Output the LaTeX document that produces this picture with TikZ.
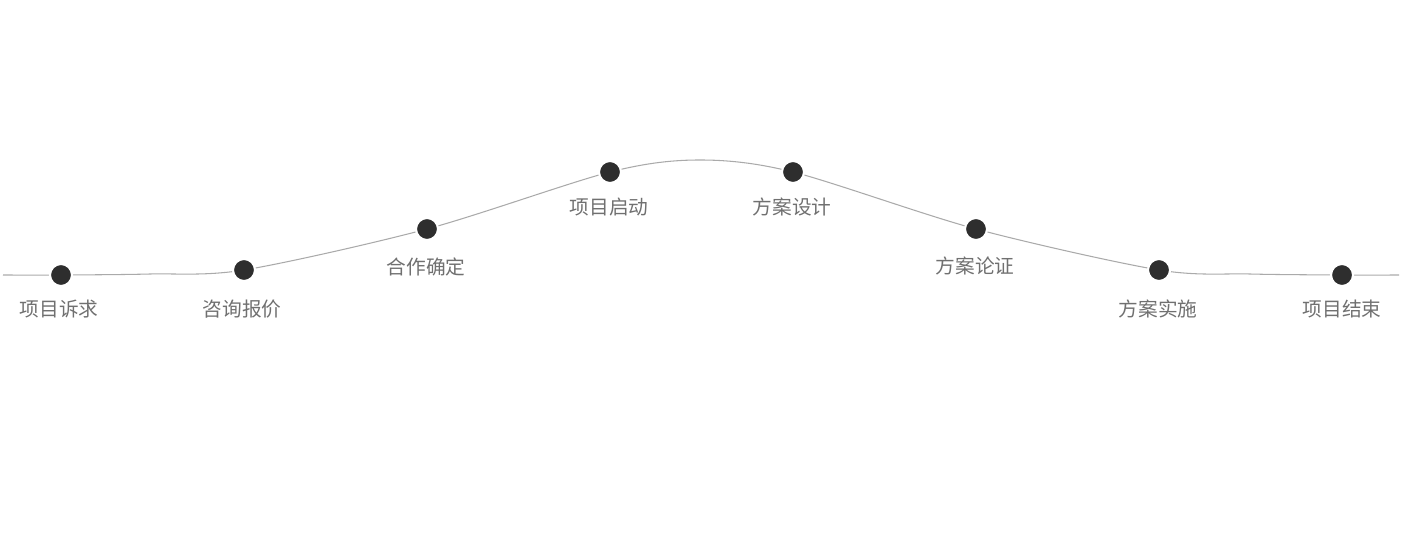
\documentclass[tikz,border=0pt]{standalone}
\usepackage{fontspec}
\newfontfamily\cjk{Noto Sans CJK SC}
\definecolor{dotgray}{HTML}{2E2E2E}
\definecolor{linegray}{HTML}{AAAAAA}
\definecolor{textgray}{HTML}{707070}
\tikzset{
  stage/.style={circle,fill=dotgray,draw=white,line width=0.6pt,inner sep=0pt,minimum size=0.22cm},
  stagelabel/.style={font=\cjk\fontsize{5.6}{6}\selectfont,text=textgray}
}
\begin{document}
\begin{tikzpicture}[x=0.01cm,y=-0.01cm]
\useasboundingbox (0,0) rectangle (1401,540);
\draw[linegray,line width=0.3pt] plot[smooth,tension=0.5] coordinates
  {(3,275) (61,275) (150,274) (244,270) (427,229) (610,172) (700,160) (793,172) (976,229) (1159,270) (1250,274) (1342,275) (1399,275)};
\node[stage] (s1) at (61,275) {};
\node[stage] (s2) at (244,270) {};
\node[stage] (s3) at (427,229) {};
\node[stage] (s4) at (610,172) {};
\node[stage] (s5) at (793,172) {};
\node[stage] (s6) at (976,229) {};
\node[stage] (s7) at (1159,270) {};
\node[stage] (s8) at (1342,275) {};
\node[stagelabel] at (59,309) {项目诉求};
\node[stagelabel] at (242,309) {咨询报价};
\node[stagelabel] at (426,267) {合作确定};
\node[stagelabel] at (609,207) {项目启动};
\node[stagelabel] at (792,207) {方案设计};
\node[stagelabel] at (975,266) {方案论证};
\node[stagelabel] at (1158,309) {方案实施};
\node[stagelabel] at (1342,309) {项目结束};
\end{tikzpicture}
\end{document}
